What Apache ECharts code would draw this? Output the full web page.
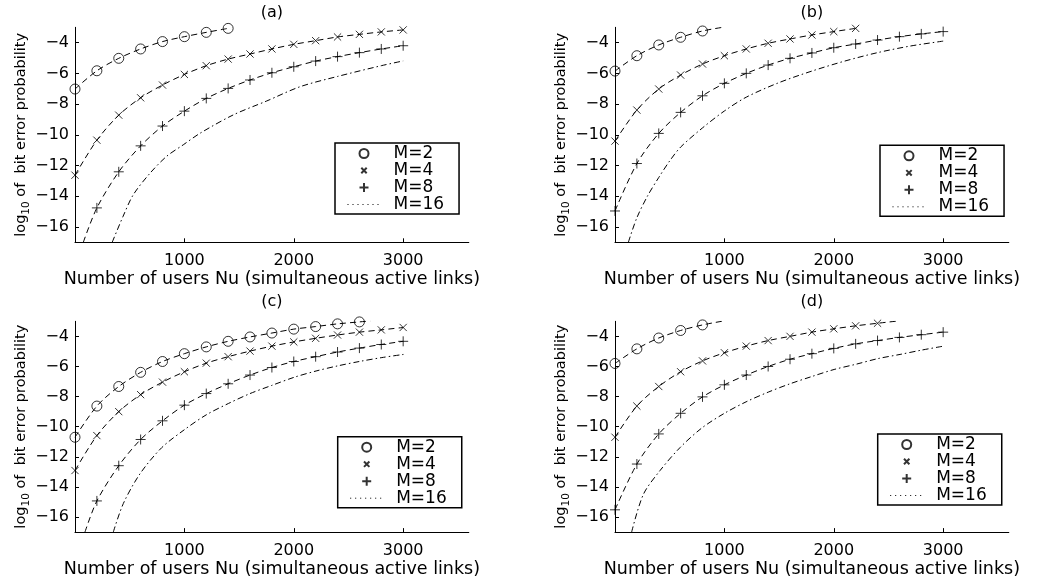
<!DOCTYPE html>
<html><head><meta charset="utf-8">
<script src="https://cdn.jsdelivr.net/npm/echarts@6/dist/echarts.min.js"></script>
<style>html,body{margin:0;padding:0;background:#fff}#c{width:1037px;height:579px}</style>
</head><body><div id="c"></div>
<script>
// ---------- data ----------
const xSteps = [0,200,400,600,800,1000,1200,1400,1600,1800,2000,2200,2400,2600,2800,3000];
const xTickValues = [0,1000,2000,3000];
const xLabelValues = [1000,2000,3000];
const yTickValues = [-16,-14,-12,-10,-8,-6,-4];
const panelTitles = ['(a)','(b)','(c)','(d)'];
const legendNames = ['M=2','M=4','M=8','M=16'];
const xAxisName = 'Number of users Nu (simultaneous active links)';

// panel (a)
const a2y = [-7.02,-5.83,-5.02,-4.41,-3.93,-3.61,-3.33,-3.07];
const a4y = [-12.63,-10.35,-8.72,-7.59,-6.76,-6.07,-5.50,-5.07,-4.74,-4.41,-4.11,-3.87,-3.63,-3.46,-3.30,-3.17];
const a8y = [-14.76,-12.41,-10.72,-9.43,-8.46,-7.63,-6.98,-6.43,-5.96,-5.57,-5.20,-4.91,-4.65,-4.41,-4.20]; // from x=200
const a8lineStart = [[76,-17]];
const a16 = [[340,-17],[440,-15.3],[533,-13.9],[686,-12.5],[838,-11.4],[990,-10.65],[1143,-9.9],[1448,-8.7],[1752,-7.8],[2057,-6.87],[2400,-6.2],[2800,-5.5],[3000,-5.19]];

// panel (b)
const b2y = [-5.85,-4.85,-4.15,-3.65,-3.24];
const b2lineEnd = [[985,-3.0]];
const b4y = [-10.41,-8.39,-7.02,-6.11,-5.39,-4.85,-4.41,-4.04,-3.76,-3.50,-3.28,-3.07];
const b8y = [-14.96,-11.87,-9.91,-8.54,-7.46,-6.65,-6.00,-5.46,-5.02,-4.67,-4.33,-4.09,-3.83,-3.61,-3.43,-3.28];
const b16 = [[122,-17],[200,-15.4],[300,-13.95],[400,-12.78],[500,-11.7],[600,-10.8],[800,-9.55],[1000,-8.45],[1200,-7.55],[1500,-6.6],[1800,-5.85],[2100,-5.2],[2400,-4.65],[2700,-4.22],[3000,-3.9]];

// panel (c)
const c2y = [-10.70,-8.63,-7.33,-6.39,-5.67,-5.15,-4.70,-4.33,-4.04,-3.78,-3.52,-3.35,-3.17,-3.04];
const c2lineEnd = [[2700,-2.97]];
const c4y = [-12.91,-10.59,-9.00,-7.87,-7.04,-6.35,-5.78,-5.35,-4.98,-4.65,-4.37,-4.13,-3.91,-3.72,-3.57,-3.41];
const c8y = [-14.93,-12.59,-10.85,-9.61,-8.57,-7.80,-7.15,-6.57,-6.07,-5.67,-5.35,-5.04,-4.78,-4.54,-4.33]; // from x=200
const c8lineStart = [[91,-17]];
const c16 = [[350,-17],[442,-15.1],[594,-13.13],[793,-11.39],[1000,-10.2],[1198,-9.22],[1402,-8.46],[1600,-7.8],[1798,-7.26],[2003,-6.72],[2204,-6.3],[2402,-5.96],[2606,-5.66],[2805,-5.41],[3003,-5.2]];

// panel (d)
const d2y = [-5.80,-4.83,-4.11,-3.61,-3.24];
const d2lineEnd = [[1000,-2.97]];
const d4y = [-10.70,-8.63,-7.33,-6.35,-5.63,-5.09,-4.65,-4.28,-4.00,-3.72,-3.50,-3.30,-3.13];
const d4lineEnd = [[2600,-2.97]];
const d8y = [-15.52,-12.48,-10.48,-9.11,-8.02,-7.22,-6.57,-6.00,-5.52,-5.15,-4.80,-4.50,-4.28,-4.07,-3.89,-3.72];
const d16 = [[152,-17],[259,-14.5],[412,-12.91],[594,-11.39],[793,-10.09],[1000,-9.11],[1198,-8.35],[1402,-7.7],[1600,-7.15],[1798,-6.67],[2003,-6.2],[2204,-5.85],[2402,-5.48],[2606,-5.2],[2805,-4.91],[3003,-4.65]];

// ---------- layout / style ----------
const FONT = "'DejaVu Sans', sans-serif";
const pts = (ys, startIdx) => ys.map((y, i) => [xSteps[startIdx + i], y]);

const panels = [
  {s2:pts(a2y,0), s4:pts(a4y,0), s8:pts(a8y,1), l2e:[], l4e:[], l8s:a8lineStart, m16:a16,
   grid:{left:75, top:27.3}, legend:{left:335, top:143}, titleTop:5},
  {s2:pts(b2y,0), s4:pts(b4y,0), s8:pts(b8y,0), l2e:b2lineEnd, l4e:[], l8s:[], m16:b16,
   grid:{left:615, top:27.3}, legend:{left:880, top:145.3}, titleTop:5},
  {s2:pts(c2y,0), s4:pts(c4y,0), s8:pts(c8y,1), l2e:c2lineEnd, l4e:[], l8s:c8lineStart, m16:c16,
   grid:{left:75, top:321.3}, legend:{left:337.7, top:436.7}, titleTop:294},
  {s2:pts(d2y,0), s4:pts(d4y,0), s8:pts(d8y,0), l2e:d2lineEnd, l4e:d4lineEnd, l8s:[], m16:d16,
   grid:{left:615, top:321.3}, legend:{left:877.7, top:434}, titleTop:294}
];
const GW = 393.8, GH = 215;

const crossPath = 'path://M0,0M2,2L8,8M8,2L2,8M10,10';
const plusPath = 'path://M5,0L5,10M0,5L10,5';
const markerStyle = {color:'transparent', borderColor:'#000', borderWidth:1};
const dashed = [6,4];
const dashDot = [6,3,1.5,3];
const dotted = [1,4];

const grids = [], xAxes = [], yAxes = [], series = [], legends = [], titles = [];

panels.forEach((p, k) => {
  grids.push({left:p.grid.left, top:p.grid.top, width:GW, height:GH, containLabel:false});
  titles.push({text:panelTitles[k], left:p.grid.left + GW/2, top:p.titleTop, textAlign:'center', padding:0,
    textStyle:{fontFamily:FONT, fontSize:16, fontWeight:'normal', color:'#000'}});
  xAxes.push({type:'value', gridIndex:k, min:0, max:3600,
    name:xAxisName, nameLocation:'middle', nameGap:23,
    nameTextStyle:{fontFamily:FONT, fontSize:17.5, color:'#000'},
    axisLine:{show:true, onZero:false, lineStyle:{color:'#000', width:1}},
    axisTick:{show:true, inside:true, length:4, customValues:xTickValues, lineStyle:{color:'#000'}},
    axisLabel:{show:true, margin:11, customValues:xLabelValues, fontFamily:FONT, fontSize:16, color:'#000',
      formatter:v => String(v)},
    splitLine:{show:false}});
  yAxes.push({type:'value', gridIndex:k, min:-17, max:-3,
    name:'{n|log}{s|10}{n| of  bit error probability}', nameLocation:'middle', nameGap:35,
    nameTextStyle:{fontFamily:FONT, color:'#000',
      rich:{n:{fontFamily:FONT, fontSize:14.5, color:'#000'},
            s:{fontFamily:FONT, fontSize:10.5, color:'#000', lineHeight:10, padding:[10,0,0,0]}}},
    axisLine:{show:true, onZero:false, lineStyle:{color:'#000', width:1}},
    axisTick:{show:true, inside:true, length:4, customValues:yTickValues, lineStyle:{color:'#000'}},
    axisLabel:{show:true, margin:6, customValues:yTickValues, fontFamily:FONT, fontSize:16, color:'#000',
      formatter:v => String(v).replace('-', '\u2212')},
    splitLine:{show:false}});

  const common = {xAxisIndex:k, yAxisIndex:k, silent:true, animation:false, emphasis:{disabled:true}};
  const line = (name, data, type) => Object.assign({type:'line', name, data, symbol:'none', smooth:0.3, clip:true,
      lineStyle:{color:'#000', width:1, type}}, common);
  series.push(line('l2_'+k, p.s2.concat(p.l2e), dashed));
  series.push(line('l4_'+k, p.s4.concat(p.l4e), dashed));
  series.push(line('l8_'+k, p.l8s.concat(p.s8), dashed));
  series.push(line('l16_'+k, p.m16, dashDot));
  series.push(Object.assign({type:'scatter', name:'M=2', data:p.s2, symbol:'circle', symbolSize:10, clip:false, itemStyle:markerStyle}, common));
  series.push(Object.assign({type:'scatter', name:'M=4', data:p.s4, symbol:crossPath, symbolSize:12, clip:false, itemStyle:markerStyle}, common));
  series.push(Object.assign({type:'scatter', name:'M=8', data:p.s8, symbol:plusPath, symbolSize:10, clip:false, itemStyle:markerStyle}, common));
  if (k === 0) {
    series.push(Object.assign({type:'line', name:'M=16', data:[], symbol:'none',
      itemStyle:{color:'transparent', borderColor:'transparent', opacity:0},
      lineStyle:{color:'#000', width:1, type:dotted}}, common));
  }
  legends.push({orient:'vertical', left:p.legend.left, top:p.legend.top, padding:[2,15,1,12],
    itemWidth:33, itemHeight:9, itemGap:0, selectedMode:false,
    backgroundColor:'#fff', borderColor:'#000', borderWidth:1.5, borderRadius:0,
    textStyle:{fontFamily:FONT, fontSize:17, color:'#000', padding:[0,0,0,8]},
    data:legendNames.map(n => n === 'M=16'
      ? {name:n, itemStyle:{color:'transparent', borderColor:'transparent', opacity:0},
         lineStyle:{type:dotted, width:1, color:'#000', opacity:1}}
      : {name:n})});
});

const chart = echarts.init(document.getElementById('c'), null, {renderer:'canvas'});
chart.setOption({
  backgroundColor:'#fff', animation:false,
  title:titles, grid:grids, xAxis:xAxes, yAxis:yAxes, legend:legends, series
});
</script></body></html>
